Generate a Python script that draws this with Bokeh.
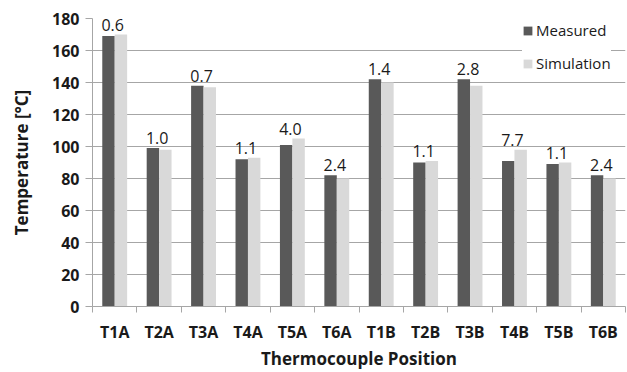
from bokeh.plotting import figure
from bokeh.models import Range1d, FixedTicker, ColumnDataSource, Legend, LegendItem
from bokeh.embed import file_html
from bokeh.resources import INLINE
from bokeh.core.properties import value
import numpy as np

categories = ["T1A", "T2A", "T3A", "T4A", "T5A", "T6A", "T1B", "T2B", "T3B", "T4B", "T5B", "T6B"]
measured = [169, 99, 138, 92, 101, 82, 142, 90, 142, 91, 89, 82]
simulation = [170, 98, 137, 93, 105, 80, 140, 91, 138, 98, 90, 80]
errors = ["0.6", "1.0", "0.7", "1.1", "4.0", "2.4", "1.4", "1.1", "2.8", "7.7", "1.1", "2.4"]
y_ticks = [0, 20, 40, 60, 80, 100, 120, 140, 160, 180]

FONT = "Open Sans"
GRID = "#a6a6a6"
C_MEAS = "#595959"
C_SIM = "#d9d9d9"

n = len(categories)
centers = np.arange(n) + 0.5
bw = 0.28

p = figure(width=627, height=372, output_backend="svg", toolbar_location=None,
           x_range=Range1d(0, n), y_range=Range1d(0, 180))
p.min_border_left = 92
p.min_border_right = 2
p.min_border_top = 18
p.min_border_bottom = 66
p.outline_line_color = None
p.background_fill_color = "white"
p.border_fill_color = "white"

src = ColumnDataSource(dict(
    xm=centers - bw / 2, xs=centers + bw / 2, xc=centers,
    m=measured, s=simulation,
    top=[max(a, b) for a, b in zip(measured, simulation)],
    lab=errors,
))

r1 = p.vbar(x="xm", top="m", width=bw, bottom=0, source=src, fill_color=C_MEAS, line_color=None)
r2 = p.vbar(x="xs", top="s", width=bw, bottom=0, source=src, fill_color=C_SIM, line_color=None)

p.text(x="xc", y="top", text="lab", source=src, text_align="center", text_baseline="bottom",
       y_offset=-4, x_offset=-2, text_font=value(FONT), text_font_size="16px", text_color="#1a1a1a")

# x axis
xa = p.xaxis[0]
xa.ticker = FixedTicker(ticks=list(centers), minor_ticks=list(range(n + 1)))
xa.major_label_overrides = {float(c): lab for c, lab in zip(centers, categories)}
xa.major_tick_out = 0
xa.major_tick_in = 0
xa.minor_tick_out = 6
xa.minor_tick_in = 0
xa.minor_tick_line_color = GRID
xa.axis_line_color = GRID
xa.major_label_text_font = FONT
xa.major_label_text_font_style = "bold"
xa.major_label_text_font_size = "16px"
xa.major_label_text_color = "#1a1a1a"
xa.major_label_standoff = 8
xa.axis_label = "Thermocouple Position"
xa.axis_label_text_font = FONT
xa.axis_label_text_font_style = "bold"
xa.axis_label_text_font_size = "17px"
xa.axis_label_text_color = "#1a1a1a"
xa.axis_label_standoff = 1

# y axis
ya = p.yaxis[0]
ya.ticker = FixedTicker(ticks=y_ticks, minor_ticks=[])
ya.major_tick_out = 7
ya.major_tick_in = 0
ya.major_tick_line_color = GRID
ya.axis_line_color = GRID
ya.major_label_text_font = FONT
ya.major_label_text_font_style = "bold"
ya.major_label_text_font_size = "16px"
ya.major_label_text_color = "#1a1a1a"
ya.major_label_standoff = 6
ya.axis_label = "Temperature [°C]"
ya.axis_label_text_font = FONT
ya.axis_label_text_font_style = "bold"
ya.axis_label_text_font_size = "17px"
ya.axis_label_text_color = "#1a1a1a"
ya.axis_label_standoff = 16

p.xgrid.visible = False
p.ygrid.ticker = FixedTicker(ticks=y_ticks[1:])
p.ygrid.grid_line_color = GRID
p.ygrid.grid_line_width = 1

legend = Legend(items=[LegendItem(label="Measured", renderers=[r1]),
                       LegendItem(label="Simulation", renderers=[r2])],
                location=(430, 233))
legend.glyph_width = 11
legend.glyph_height = 11
legend.label_text_font = FONT
legend.label_text_font_size = "15px"
legend.label_text_color = "#1a1a1a"
legend.label_height = 20
legend.label_standoff = 3
legend.spacing = 13
legend.padding = 4
legend.margin = 0
legend.border_line_color = None
legend.background_fill_color = "white"
legend.background_fill_alpha = 1.0
p.add_layout(legend)

open("out.html", "w").write(file_html(p, INLINE))
